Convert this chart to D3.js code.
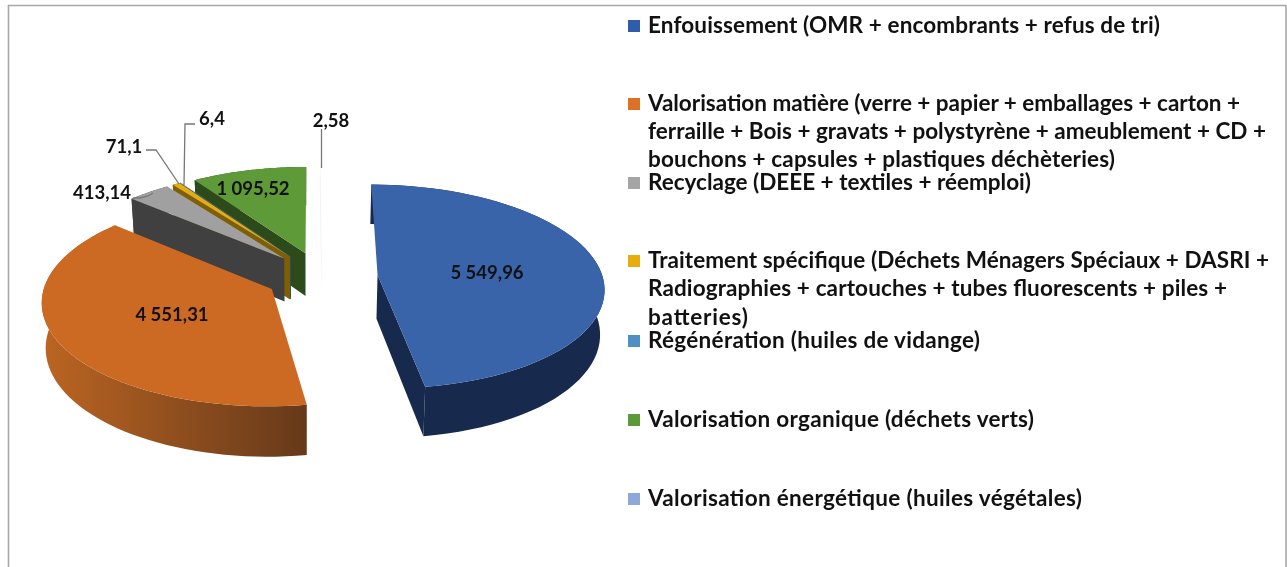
<!DOCTYPE html>
<html>
<head>
<meta charset="utf-8">
<script src="https://cdn.jsdelivr.net/npm/d3@7"></script>
<style>
    html, body { margin: 0; padding: 0; background: #fff; overflow: hidden; }
    svg { display: block; filter: blur(0.55px); }
    text { font-family: Lato, "Noto Sans", sans-serif; font-weight: 700; fill: #111; }
</style>
</head>
<body>
<svg class="svg"></svg>
<script>
const categories = [
    'Enfouissement', 'Valorisation matière', 'Recyclage', 'Traitement spécifique',
    'Régénération', 'Valorisation organique', 'Valorisation énergétique'
];
const values = [5549.96, 4551.31, 413.14, 71.1, 6.4, 1095.52, 2.58];
const legendLines = [
    ['Enfouissement (OMR + encombrants + refus de tri)'],
    ['Valorisation matière (verre + papier + emballages + carton +',
     'ferraille + Bois + gravats + polystyrène + ameublement + CD +',
     'bouchons + capsules + plastiques déchèteries)'],
    ['Recyclage (DEEE + textiles + réemploi)'],
    ['Traitement spécifique (Déchets Ménagers Spéciaux + DASRI +',
     'Radiographies + cartouches + tubes fluorescents + piles +',
     'batteries)'],
    ['Régénération (huiles de vidange)'],
    ['Valorisation organique (déchets verts)'],
    ['Valorisation énergétique (huiles végétales)']
];

const topColors = ['#3a64aa', '#cc6a24', '#a0a0a0', '#e6ac10', '#4e8fc5', '#5f9a38', '#f0f0f4'];
const wallColors = ['#172a4d', '#8a4a1a', '#404040', '#7f5f05', '#2a4f70', '#2c4a1a', '#ececec'];
const legendColors = ['#2f5cab', '#dd7128', '#a5a5a5', '#e6ac10', '#4e8fc5', '#5b9a3a', '#8fa8d8'];

const width = 1287;
const height = 567;

/* 3D PROJECTION */
const vanishX = 306;
const offsetX = 15.6;
const centerY = 276.8;
const radiusX = 225;
const radiusY = 101;
const perspective = 0.113;
const explode = 0.25;
const depth = 44;
const wallShrink = 0.985;
const rotation = 0.005;

function project (X, Y, drop) {
    const s = 1 / (1 - perspective * Y);
    const x = (offsetX + radiusX * X) * s;
    return [
        vanishX + (drop ? x * wallShrink : x),
        centerY + radiusY * Y * s + (drop ? depth * s : 0)
    ];
}

const svg = d3.select('.svg')
    .attr('width', width)
    .attr('height', height)
    .attr('viewBox', `0 0 ${width} ${height}`);

const defs = svg.append('defs');
const orangeWall = defs.append('linearGradient').attr('id', 'wall1');
orangeWall.append('stop').attr('offset', '0%').attr('stop-color', '#bb6522');
orangeWall.append('stop').attr('offset', '100%').attr('stop-color', '#66391a');

svg.append('path')
    .attr('d', `M8.5,${height}V5.5H1286V${height}`)
    .attr('fill', 'none')
    .attr('stroke', '#a8a8a8')
    .attr('stroke-width', 1.6);

const slices = d3.pie().sort(null)
    .startAngle(rotation)
    .endAngle(2 * Math.PI + rotation)(values);
const line = d3.line();

slices.forEach(d => {
    const mid = (d.startAngle + d.endAngle) / 2;
    d.apex = [explode * Math.sin(mid), -explode * Math.cos(mid)];
    d.rim = a => [d.apex[0] + Math.sin(a), d.apex[1] - Math.cos(a)];
    d.rimAngles = d3.range(0, 61).map(k => d.startAngle + (d.endAngle - d.startAngle) * k / 60);
});

/* painted back to front */
const paintOrder = [6, 5, 4, 3, 2, 1, 0];
const pie3d = svg.append('g').attr('id', 'pie');

paintOrder.forEach(i => {
    const d = slices[i];
    const g = pie3d.append('g');

    // outer rim wall
    const rimTop = d.rimAngles.map(a => project(...d.rim(a), false));
    const rimBottom = d.rimAngles.map(a => project(...d.rim(a), true));
    g.append('path')
        .attr('d', line(rimTop.concat(rimBottom.slice().reverse())) + 'Z')
        .attr('fill', i === 1 ? 'url(#wall1)' : wallColors[i]);

    // radial wall facing the viewer: end edge for the first slice, start edge
    // for the small back ones, none for the orange slice
    if (i !== 1) {
        const a0 = i === 0 ? d.endAngle : d.startAngle;
        const edge = [
            project(...d.apex, false), project(...d.rim(a0), false),
            project(...d.rim(a0), true), project(...d.apex, true)
        ];
        g.append('path')
            .attr('d', line(edge) + 'Z')
            .attr('fill', wallColors[i]);
    }

    // top face
    g.append('path')
        .attr('d', line([project(...d.apex, false)].concat(rimTop)) + 'Z')
        .attr('fill', topColors[i]);
});

/* DATA LABELS */
const frFormat = d3.formatLocale({ decimal: ',', thousands: '\u00a0', grouping: [3], currency: ['', ''] }).format(',~f');
const labelPos = [[487, 272], [172, 314], [102, 192], [124, 146], [212, 118], [253, 188], [331, 120]];

svg.append('g').selectAll('text')
    .data(values).enter()
    .append('text')
    .attr('x', (d, i) => labelPos[i][0])
    .attr('y', (d, i) => labelPos[i][1] + 6.5)
    .attr('text-anchor', 'middle')
    .style('font-size', '18.5px')
    .text(d => frFormat(d));

const leaders = [
    [[133, 198], [140, 198], [148, 196], [153, 193]],
    [[146, 150], [156, 150], [179, 184]],
    [[195, 124], [185, 124], [184, 185]],
    [[321.5, 129], [321.5, 168]]
];
svg.append('g').selectAll('path')
    .data(leaders).enter()
    .append('path')
    .attr('d', d => line(d))
    .attr('fill', 'none')
    .attr('stroke', '#777')
    .attr('stroke-width', 1.3);

/* LEGEND */
const legendCenters = [[26], [104, 132, 160], [183], [261, 289, 318], [341], [420], [499]];
const legendWidths = [[512], [592, 618, 467], [383], [621, 579, 100], [332], [386], [434]];
const legend = svg.append('g').attr('id', 'legend');

legendLines.forEach((lines, i) => {
    legend.append('rect')
        .attr('x', 628)
        .attr('y', legendCenters[i][0] - 6)
        .attr('width', 12)
        .attr('height', 12)
        .attr('fill', legendColors[i]);
    lines.forEach((txt, j) => {
        legend.append('text')
            .attr('x', 648)
            .attr('y', legendCenters[i][j] + 7)
            .attr('textLength', legendWidths[i][j])
            .attr('lengthAdjust', 'spacing')
            .style('font-size', '22.5px')
            .text(txt);
    });
});
</script>
</body>
</html>
